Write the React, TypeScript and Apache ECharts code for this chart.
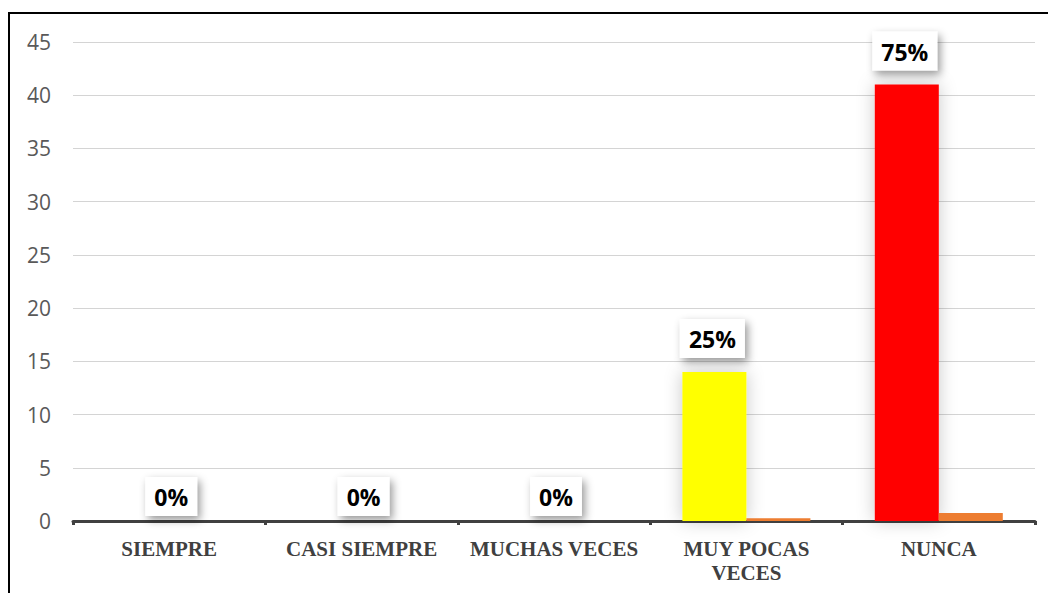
import React, { useEffect, useRef } from "react";
import * as echarts from "echarts";

const categories = ["SIEMPRE", "CASI SIEMPRE", "MUCHAS VECES", "MUY POCAS\nVECES", "NUNCA"];
const counts = [0, 0, 0, 14, 41];
const fractions = [0, 0, 0, 0.25, 0.75];
const percentLabels = ["0%", "0%", "0%", "25%", "75%"];
const barColors = ["#FFFF00", "#FFFF00", "#FFFF00", "#FFFF00", "#FF0000"];

export default function App() {
  const ref = useRef<HTMLDivElement>(null);
  useEffect(() => {
    if (!ref.current) return;
    const chart = echarts.init(ref.current, null, { renderer: "svg" });
    const labelBase = {
      show: true,
      position: "top",
      distance: 14,
      color: "#000",
      fontFamily: "Open Sans",
      fontWeight: "bold",
      fontSize: 23,
      lineHeight: 26,
      backgroundColor: "#fff",
      padding: [7, 9, 6, 9],
      shadowColor: "rgba(0,0,0,0.4)",
      shadowBlur: 9,
      shadowOffsetX: 3,
      shadowOffsetY: 4,
    };
    chart.setOption({
      animation: false,
      graphic: [
        {
          type: "rect",
          shape: { x: 9, y: 13, width: 1200, height: 700 },
          style: { fill: "none", stroke: "#000", lineWidth: 2 },
          silent: true,
        },
      ],
      grid: { left: 73, right: 13, top: 42, bottom: 72, containLabel: false },
      xAxis: {
        type: "category",
        data: categories,
        axisLine: { lineStyle: { color: "#404040", width: 3 } },
        axisTick: { show: true, interval: 0, length: 4, lineStyle: { color: "#404040", width: 3 } },
        axisLabel: {
          interval: 0,
          color: "#404040",
          fontFamily: "Liberation Serif",
          fontWeight: "bold",
          fontSize: 21,
          lineHeight: 24,
          margin: 16,
        },
      },
      yAxis: {
        type: "value",
        min: 0,
        max: 45,
        interval: 5,
        axisLine: { show: false },
        axisTick: { show: false },
        splitLine: { lineStyle: { color: "#d4d4d4", width: 1 } },
        axisLabel: {
          color: "#595959",
          fontFamily: "Open Sans",
          fontSize: 21,
          margin: 22,
        },
      },
      series: [
        {
          type: "bar",
          data: counts.map((v, i) => ({
            value: v,
            itemStyle: { color: barColors[i] },
            label:
              v === 0
                ? { offset: [34, 3], distance: 8 }
                : { offset: [-2, 0] },
          })),
          barWidth: 64,
          barGap: "0%",
          itemStyle: {
            shadowColor: "rgba(0,0,0,0.22)",
            shadowBlur: 18,
          },
          label: {
            ...labelBase,
            formatter: (p: any) => percentLabels[p.dataIndex],
          },
          z: 2,
        },
        {
          type: "bar",
          data: fractions,
          barWidth: 64,
          barGap: "0%",
          itemStyle: { color: "#ED7D31" },
          z: 2,
        },
      ],
    });
    return () => chart.dispose();
  }, []);
  return (
    <div
      ref={ref}
      style={{ position: "absolute", left: 0, top: 0, width: 1048, height: 593, background: "#fff" }}
    />
  );
}
